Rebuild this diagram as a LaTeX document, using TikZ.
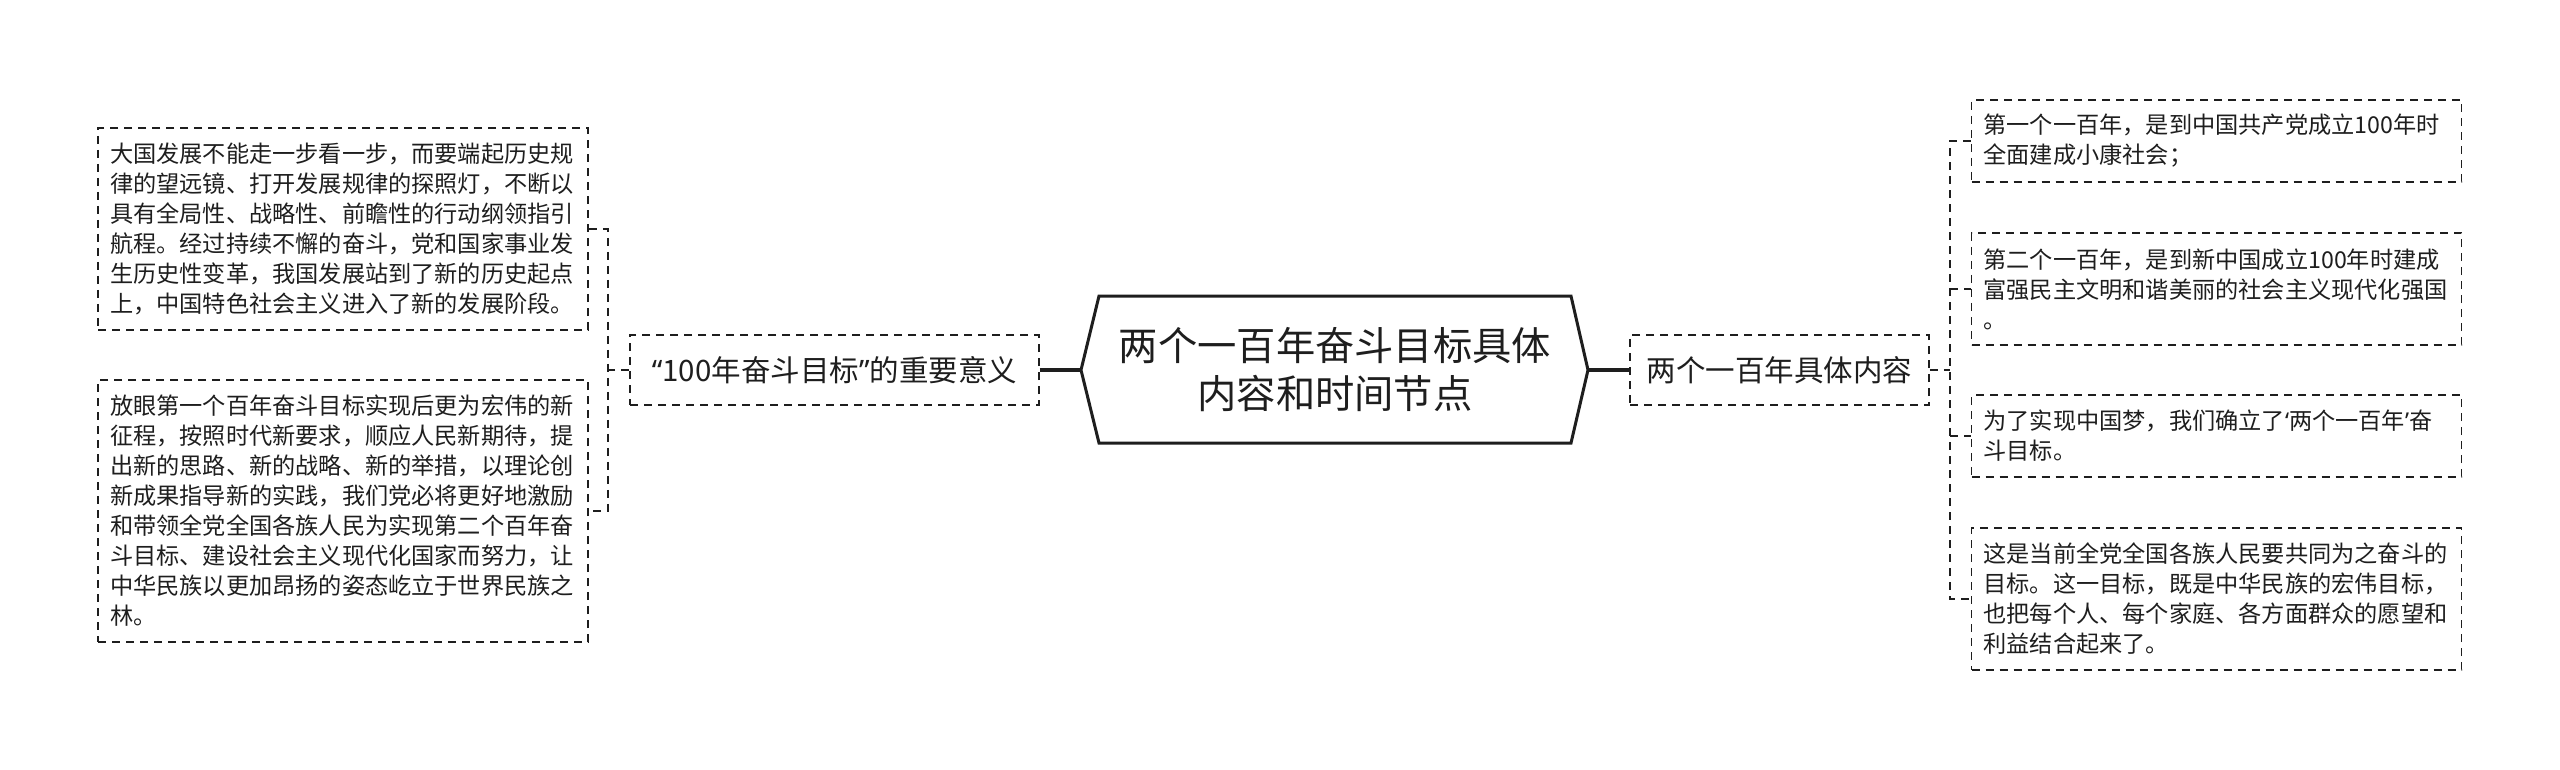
\documentclass[tikz,border=0pt]{standalone}
\usepackage{fontspec}
\newfontfamily\cjk{Noto Sans CJK SC}
\newfontfamily\latq{Noto Sans}
\newcommand\qm[1]{{\latq #1}}
\usetikzlibrary{calc}
\definecolor{ink}{HTML}{1E1E1E}
\begin{document}
\begin{tikzpicture}[x=1pt,y={(0pt,-1pt)},
  leaf/.style={draw=ink, text=ink, line width=1.8pt, dash pattern=on 8pt off 6pt,
    font=\cjk\fontsize{23.2pt}{30pt}\selectfont, align=left, text width=466pt,
    inner xsep=12pt, inner ysep=0pt},
  mid/.style={draw=ink, text=ink, line width=1.8pt, dash pattern=on 8pt off 6pt,
    font=\cjk\fontsize{29.5pt}{36pt}\selectfont, inner sep=0pt, minimum height=70pt},
  conn/.style={draw=ink, line width=1.8pt, dash pattern=on 8pt off 6pt},
  thick conn/.style={draw=ink, line width=3.4pt},
  centre/.style={draw=ink, line width=3pt, line join=miter}]
\useasboundingbox (0,0) rectangle (2560,770);
\fill[white] (0,0) rectangle (2560,770);

% centre
\coordinate (ctl) at (1099,296);
\coordinate (ctr) at (1571,296);
\coordinate (cr) at (1588,370);
\coordinate (cbr) at (1571,443);
\coordinate (cbl) at (1099,443);
\coordinate (cl) at (1081,370);
\draw[centre] (ctl) -- (ctr) -- (cr) -- (cbr) -- (cbl) -- (cl) -- cycle;
\node[text=ink, font=\cjk\fontsize{39.3pt}{48pt}\selectfont, align=center] (c) at (1335,370)
  {两个一百年奋斗目标具体\\内容和时间节点};

% middle nodes
\node[mid, minimum width=409pt] (ml) at (834.5,370) {\qm{“}100年奋斗目标\qm{”}的重要意义};
\node[mid, minimum width=299pt] (rn) at (1779.5,370) {两个一百年具体内容};

% left leaves
\node[leaf, minimum height=202pt] (l1) at (343,229) {大国发展不能走一步看一步，而要端起历史规\\律的望远镜、打开发展规律的探照灯，不断以\\具有全局性、战略性、前瞻性的行动纲领指引\\航程。经过持续不懈的奋斗，党和国家事业发\\生历史性变革，我国发展站到了新的历史起点\\上，中国特色社会主义进入了新的发展阶段。};
\node[leaf, minimum height=262pt] (l2) at (343,511) {放眼第一个百年奋斗目标实现后更为宏伟的新\\征程，按照时代新要求，顺应人民新期待，提\\出新的思路、新的战略、新的举措，以理论创\\新成果指导新的实践，我们党必将更好地激励\\和带领全党全国各族人民为实现第二个百年奋\\斗目标、建设社会主义现代化国家而努力，让\\中华民族以更加昂扬的姿态屹立于世界民族之\\林。};

% right leaves
\node[leaf, minimum height=82pt] (r1) at (2216.5,141) {第一个一百年，是到中国共产党成立100年时\\全面建成小康社会；};
\node[leaf, minimum height=112pt] (r2) at (2216.5,289) {第二个一百年，是到新中国成立100年时建成\\富强民主文明和谐美丽的社会主义现代化强国\\。};
\node[leaf, minimum height=82pt] (r3) at (2216.5,436) {为了实现中国梦，我们确立了\qm{‘}两个一百年\qm{’}奋\\斗目标。};
\node[leaf, minimum height=142pt] (r4) at (2216.5,599) {这是当前全党全国各族人民要共同为之奋斗的\\目标。这一目标，既是中华民族的宏伟目标，\\也把每个人、每个家庭、各方面群众的愿望和\\利益结合起来了。};

% thick connectors
\draw[thick conn] (ml.east) -- (cl);
\draw[thick conn] (cr) -- (rn.west);

% left bracket
\coordinate (lb) at (608,370);
\draw[conn] (ml.west) -- (lb);
\draw[conn] (l1.east) -| (lb |- l1.east) -- (lb |- l2.east) -- (l2.east);

% right bracket
\coordinate (rb) at (1950,370);
\draw[conn] (rn.east) -- (rb);
\draw[conn] (r1.west) -- (rb |- r1.west) -- (rb |- r4.west) -- (r4.west);
\draw[conn] (rb |- r2.west) -- (r2.west);
\draw[conn] (rb |- r3.west) -- (r3.west);
\end{tikzpicture}
\end{document}
